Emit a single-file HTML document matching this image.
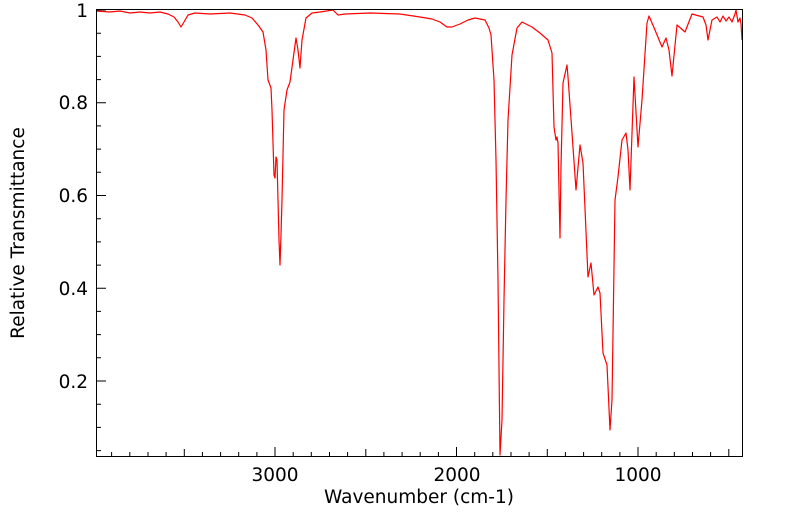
<!DOCTYPE html>
<html><head><meta charset="utf-8"><style>
body{margin:0;background:#fff;}
svg text{font-family:"DejaVu Sans","Liberation Sans",sans-serif;fill:#000;}
</style></head><body>
<svg width="799" height="516" viewBox="0 0 799 516" xmlns="http://www.w3.org/2000/svg">
<rect x="0" y="0" width="799" height="516" fill="#fff"/>
<path d="M96,11 L110,12 L120,11 L130,13 L140,12 L150,13 L160,12 L168,14 L174,17 L178,22 L181,27 L184,22 L188,15 L195,13 L210,14 L230,13 L245,15 L252,18 L258,25 L263,32 L266,50 L268,80 L271,88 L272,110 L274,175 L275,178 L276,157 L277,160 L279,240 L280,265 L281,235 L282,200 L284,110 L287,90 L290,82 L293,60 L296,38 L298,50 L300,68 L302,40 L306,18 L312,13 L320,12 L333,10 L338,15 L345,14 L370,13 L400,14 L420,17 L432,19 L440,22 L447,27 L452,27 L460,24 L468,20 L475,18 L485,20 L489,28 L491,35 L494,80 L496,160 L498,280 L500,455 L502,420 L504,300 L506,200 L508,120 L512,55 L517,28 L522,22 L532,27 L540,33 L548,40 L552,53 L554,127 L556,140 L557,137 L558,143 L560,238 L561,167 L563,83 L567,65 L568,77 L572,133 L576,190 L580,145 L583,163 L588,277 L591,263 L594,295 L598,287 L600,293 L603,353 L607,365 L610,430 L612,400 L615,200 L618,177 L622,140 L626,133 L628,150 L630,190 L634,77 L638,147 L642,100 L647,23 L649,16 L655,30 L662,47 L666,38 L669,50 L672,76 L677,25 L685,32 L692,14 L703,17 L706,25 L708,40 L712,20 L717,17 L720,22 L723,16 L726,21 L729,17 L732,22 L735,14 L736,10 L738,22 L740,18 L741,24 L742,40" fill="none" stroke="#f00" stroke-width="1.2" stroke-linejoin="round"/>
<rect x="96.5" y="9.5" width="646" height="447" fill="none" stroke="#000" stroke-width="1"/>
<g stroke="#000" stroke-width="1">
<path d="M111.6,457v-5 M129.8,457v-5 M148,457v-5 M166.1,457v-5 M184.3,457v-8 M202.4,457v-5 M220.6,457v-5 M238.7,457v-5 M256.9,457v-5 M275,457v-10 M293.2,457v-5 M311.3,457v-5 M329.5,457v-5 M347.6,457v-5 M365.8,457v-8 M383.9,457v-5 M402.1,457v-5 M420.2,457v-5 M438.4,457v-5 M456.5,457v-10 M474.7,457v-5 M492.8,457v-5 M511,457v-5 M529.1,457v-5 M547.3,457v-8 M565.4,457v-5 M583.6,457v-5 M601.7,457v-5 M619.9,457v-5 M638,457v-10 M656.2,457v-5 M674.3,457v-5 M692.5,457v-5 M710.6,457v-5 M728.8,457v-8"/>
<path d="M96,10h10 M96,33.2h5 M96,56.4h5 M96,79.6h5 M96,102.8h10 M96,125.9h5 M96,149.1h5 M96,172.3h5 M96,195.5h10 M96,218.7h5 M96,241.9h5 M96,265.1h5 M96,288.3h10 M96,311.4h5 M96,334.6h5 M96,357.8h5 M96,381h10 M96,404.2h5 M96,427.4h5 M96,450.6h5"/>
</g>
<g font-size="18.5">
<text x="88" y="17" text-anchor="end">1</text>
<text x="88" y="109" text-anchor="end">0.8</text>
<text x="88" y="202" text-anchor="end">0.6</text>
<text x="88" y="295" text-anchor="end">0.4</text>
<text x="88" y="388" text-anchor="end">0.2</text>
<text x="275" y="481" text-anchor="middle">3000</text>
<text x="457" y="481" text-anchor="middle">2000</text>
<text x="638" y="481" text-anchor="middle">1000</text>
<text x="419" y="503" text-anchor="middle">Wavenumber (cm-1)</text>
<text transform="translate(24,233) rotate(-90)" text-anchor="middle">Relative Transmittance</text>
</g>
</svg>
</body></html>
